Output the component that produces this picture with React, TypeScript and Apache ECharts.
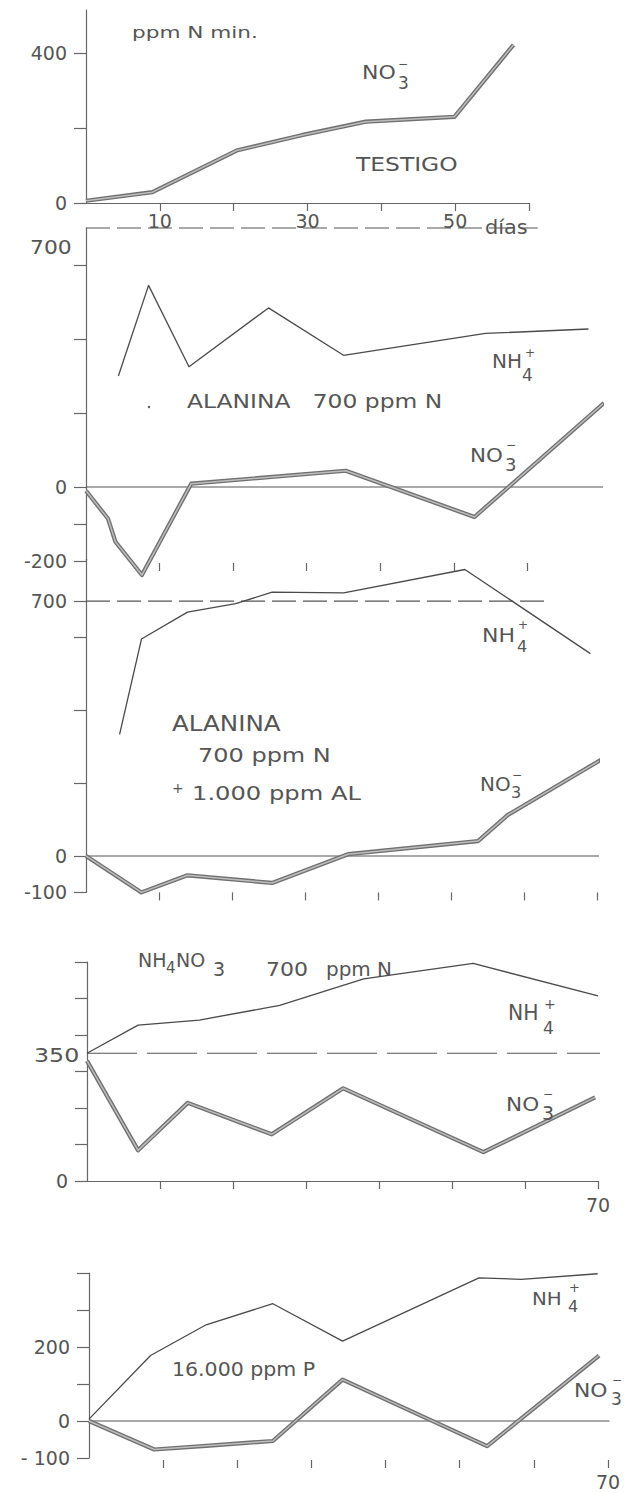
import React, { useEffect, useRef } from 'react';
import * as echarts from 'echarts';

// ---------- DATA (day, ppm N) ----------
// Panel 1: TESTIGO
const testigoNO3: [number, number][] = [[0, 6], [9.0, 29], [20.4, 140], [29.2, 181], [37.9, 217], [49.9, 230], [57.9, 422]];
// Panel 2: ALANINA 700 ppm N
const alaninaNH4: [number, number][] = [[4.4, 300], [8.5, 545], [14.0, 325], [24.8, 484], [35.0, 356], [54.3, 415], [68.3, 427]];
const alaninaNO3: [number, number][] = [[0, -10], [3.0, -86], [4.0, -148], [7.6, -238], [14.3, 9], [35.3, 44], [52.8, -81], [70.4, 227]];
// Panel 3: ALANINA 700 ppm N + 1.000 ppm AL
const alaninaAlNH4: [number, number][] = [[4.6, 334], [7.6, 596], [13.9, 670], [20.5, 693], [25.5, 725], [35.3, 723], [51.9, 787], [69.1, 556]];
const alaninaAlNO3: [number, number][] = [[0, 0], [7.6, -100], [13.9, -53], [25.5, -74], [35.9, 5], [53.7, 41], [57.8, 113], [70.7, 266]];
// Panel 4: NH4NO3 700 ppm N
const nitratoNH4: [number, number][] = [[0, 350], [7.0, 427], [15.4, 441], [26.4, 481], [37.9, 554], [52.9, 596], [70, 507]];
const nitratoNO3: [number, number][] = [[0, 329], [7.0, 84], [13.8, 214], [25.3, 128], [35.1, 254], [54.3, 79], [69.6, 229]];
// Panel 5: 16.000 ppm P
const fosforoNH4: [number, number][] = [[0, 5], [8.3, 177], [15.8, 260], [24.8, 317], [34.2, 216], [52.6, 387], [58.3, 383], [68.6, 398]];
const fosforoNO3: [number, number][] = [[0, 0], [8.8, -77], [15.8, -67], [24.8, -54], [34.2, 112], [53.7, -68], [68.8, 177]];

// Reference lines
const p2Ref700: [number, number][] = [[0, 700], [61.4, 700]];
const p2Zero: [number, number][] = [[0, 0], [71, 0]];
const p3Ref700: [number, number][] = [[0, 700], [62.8, 700]];
const p3Zero: [number, number][] = [[0, 0], [71.8, 0]];
const p4Ref350: [number, number][] = [[0, 350], [70.5, 350]];
const p5Zero: [number, number][] = [[0, 0], [70.2, 0]];

// Ticks & labels
const p1YTicks = [0, 200, 400];
const p1YLabels = [0, 400];
const p1XTicks = [10, 20, 30, 40, 50, 60];
const p1XLabels = [10, 30, 50];
const p2YTicks = [-200, -100, 0, 200, 400, 600];
const p2YLabels = [0, -200];
const p2XTicks = [10, 20, 30, 40, 50, 60];
const p3YTicks = [-100, 0, 200, 400, 600, 700];
const p3YLabels = [700, 0, -100];
const p3XTicks = [10, 20, 30, 40, 50, 60, 70];
const p4YTicks = [0, 100, 200, 300, 400, 500, 600];
const p4YLabels = [0];
const p4XTicks = [10, 20, 30, 40, 50, 60, 70];
const p4XLabels = [70];
const p5YTicks = [-100, 0, 100, 200, 300, 400];
const p5YLabels = [200, 0, -100];
const p5XTicks = [10, 20, 30, 40, 50, 60, 70];
const p5XLabels = [70];

// ---------- STYLE ----------
const FONT = 'DejaVu Sans';
const INK = '#555';
const AXIS = '#666';

function yAxisOf(gridIndex: number, min: number, max: number, ticks: number[], labels: number[], fmt?: (v: number) => string) {
  return {
    type: 'value', gridIndex, min, max,
    axisLine: { show: true, onZero: false, lineStyle: { color: AXIS, width: 1.2 } },
    axisTick: { show: true, length: 12, customValues: ticks, lineStyle: { color: AXIS, width: 1.2 } },
    axisLabel: {
      show: labels.length > 0, customValues: labels, margin: 19, color: INK, fontSize: 19, fontFamily: FONT,
      formatter: fmt || ((v: number) => String(v)),
    },
    splitLine: { show: false },
  };
}

function xAxisOf(gridIndex: number, max: number, ticks: number[], labels: number[], showLine: boolean, offset: number, margin: number) {
  return {
    type: 'value', gridIndex, min: 0, max, offset,
    axisLine: { show: showLine, onZero: false, lineStyle: { color: AXIS, width: 1.2 } },
    axisTick: { show: true, length: 8, customValues: ticks, lineStyle: { color: AXIS, width: 1.2 } },
    axisLabel: {
      show: labels.length > 0, customValues: labels.length ? labels : undefined, margin, color: INK, fontSize: 19, fontFamily: FONT,
      formatter: (v: number) => String(v),
    },
    splitLine: { show: false },
  };
}

function line(idx: number, data: [number, number][], width: number, color: string, z: number, type: any = 'solid') {
  return {
    type: 'line', xAxisIndex: idx, yAxisIndex: idx, data, symbol: 'none', showSymbol: false,
    clip: false, silent: true, z,
    lineStyle: { width, color, type, cap: 'butt', join: 'round' },
  };
}

function no3(idx: number, data: [number, number][]) {
  return [line(idx, data, 4.2, '#707070', 5), line(idx, data, 1.5, '#bdbdbd', 6)];
}

const txt = (text: string, x: number, y: number, fontSize: number, scaleX = 1) => ({
  type: 'text', x, y, scaleX, silent: true, z: 10,
  style: {
    text, fontSize, fontFamily: FONT, fill: INK,
    align: 'left', verticalAlign: 'middle', textAlign: 'left', textVerticalAlign: 'middle',
  },
});

export default function App() {
  const ref = useRef<HTMLDivElement>(null);
  useEffect(() => {
    document.body.style.margin = '0';
    const chart = echarts.init(ref.current!, null, { renderer: 'svg' });
    const dash1 = [24, 7];
    const dash4 = [50, 10];
    const option: any = {
      animation: false,
      backgroundColor: '#fff',
      textStyle: { fontFamily: FONT },
      grid: [
        { left: 86, top: 10, width: 443, height: 193, outerBoundsMode: 'none' },
        { left: 86, top: 228, width: 515, height: 333, outerBoundsMode: 'none' },
        { left: 86, top: 559.3, width: 511, height: 333.1, outerBoundsMode: 'none' },
        { left: 87, top: 962, width: 511, height: 219, outerBoundsMode: 'none' },
        { left: 89, top: 1273, width: 519, height: 185, outerBoundsMode: 'none' },
      ],
      xAxis: [
        xAxisOf(0, 60, p1XTicks, p1XLabels, true, 0, 8),
        xAxisOf(1, 70, p2XTicks, [], false, 2, 8),
        xAxisOf(2, 70, p3XTicks, [], false, 0, 8),
        xAxisOf(3, 70, p4XTicks, p4XLabels, true, 0, 14),
        xAxisOf(4, 70, p5XTicks, p5XLabels, false, 2, 12),
      ],
      yAxis: [
        yAxisOf(0, 0, 515, p1YTicks, p1YLabels),
        yAxisOf(1, -200, 700, p2YTicks, p2YLabels),
        yAxisOf(2, -100, 815, p3YTicks, p3YLabels),
        yAxisOf(3, 0, 600, p4YTicks, p4YLabels),
        yAxisOf(4, -100, 400, p5YTicks, p5YLabels, (v: number) => (v < 0 ? '- ' + Math.abs(v) : String(v))),
      ],
      series: [
        // panel 1
        ...no3(0, testigoNO3),
        // panel 2
        line(1, p2Ref700, 1.2, INK, 2, dash1),
        line(1, p2Zero, 1.1, INK, 2),
        line(1, alaninaNH4, 1.3, '#4a4a4a', 4),
        ...no3(1, alaninaNO3),
        // panel 3
        line(2, p3Ref700, 1.2, INK, 2, dash1),
        line(2, p3Zero, 1.1, INK, 2),
        line(2, alaninaAlNH4, 1.3, '#4a4a4a', 4),
        ...no3(2, alaninaAlNO3),
        // panel 4
        line(3, p4Ref350, 1.2, INK, 2, dash4),
        line(3, nitratoNH4, 1.3, '#4a4a4a', 4),
        ...no3(3, nitratoNO3),
        // panel 5
        line(4, p5Zero, 1.1, INK, 2),
        line(4, fosforoNH4, 1.3, '#4a4a4a', 4),
        ...no3(4, fosforoNO3),
      ],
      graphic: {
        elements: [
          // panel 1
          txt('ppm N min.', 132, 32, 16, 1.35),
          txt('NO', 362, 72, 20, 1.1), txt('3', 398, 83, 17), txt('−', 398, 64, 12),
          txt('TESTIGO', 356, 164, 20, 1.17),
          txt('días', 485, 227, 19, 1.1),
          // panel 2
          txt('700', 30, 248, 19, 1.15),
          txt('NH', 492, 361, 20), txt('4', 522, 375, 17), txt('+', 525, 353, 12),
          txt('ALANINA   700 ppm N', 187, 401, 20, 1.17),
          txt('NO', 470, 455, 20, 1.07), txt('3', 505, 464, 18), txt('−', 506, 445, 12),
          { type: 'circle', shape: { cx: 149, cy: 407, r: 1.2 }, style: { fill: INK }, silent: true },
          // panel 3
          txt('NH', 482, 635, 20, 1.1), txt('4', 517, 646, 16), txt('+', 518, 625, 12),
          txt('ALANINA', 172, 724, 21, 1.17),
          txt('700 ppm N', 198, 755, 20, 1.2),
          txt('+', 172, 788, 14),
          txt('1.000 ppm AL', 192, 793, 20, 1.21),
          txt('NO', 480, 785, 19, 1.05), txt('3', 511, 792, 16), txt('−', 512, 775, 12),
          // panel 4
          txt('NH', 138, 960, 19), txt('4', 166, 968, 15), txt('NO', 176, 960, 19), txt('3', 213, 969, 19),
          txt('700', 266, 970, 19, 1.16), txt('ppm N', 326, 970, 19, 1.05),
          txt('NH', 508, 1013, 21, 0.97), txt('4', 543, 1028, 17), txt('+', 544, 1004, 14),
          txt('NO', 506, 1104, 20, 1.08), txt('3', 542, 1113, 19), txt('−', 543, 1094, 12),
          txt('350', 34, 1055, 19, 1.25),
          // panel 5
          txt('NH', 532, 1298, 18, 1.1), txt('4', 568, 1306, 16), txt('+', 569, 1287, 13),
          txt('16.000 ppm P', 172, 1370, 19, 1.08),
          txt('NO', 574, 1391, 19, 1.15), txt('3', 611, 1399, 17), txt('−', 612, 1380, 12),
        ],
      },
    };
    chart.setOption(option);
    return () => chart.dispose();
  }, []);
  return <div ref={ref} style={{ width: 624, height: 1493 }} />;
}
